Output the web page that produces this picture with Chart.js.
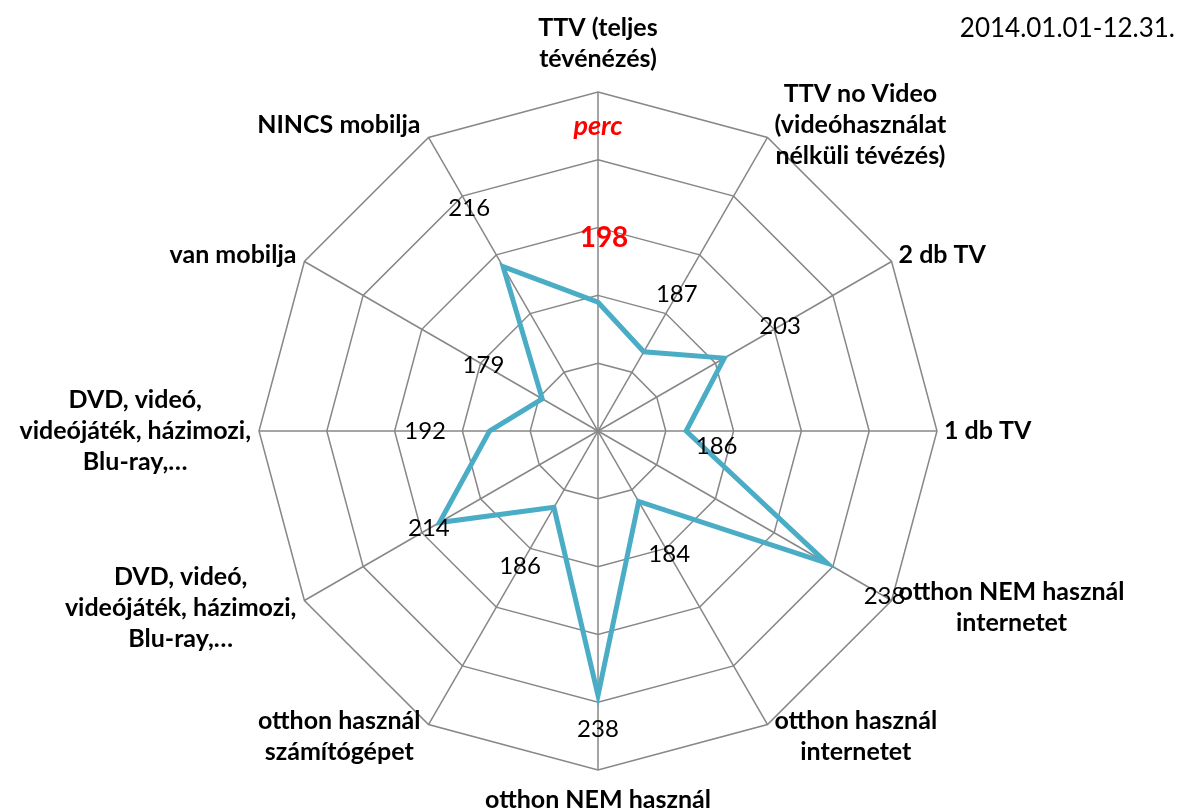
<!DOCTYPE html>
<html>
<head>
<meta charset="utf-8">
<script src="https://cdn.jsdelivr.net/npm/chart.js@4"></script>
<style>
  html, body { margin: 0; padding: 0; background: #fff; }
  #wrap { width: 1179px; height: 809px; }
</style>
</head>
<body>
<div id="wrap"><canvas id="radar" width="1179" height="809"></canvas></div>
<script>
// kategóriák (tengelyek)
var categories = [
  "TTV (teljes\ntévénézés)",
  "TTV no Video\n(videóhasználat\nnélküli tévézés)",
  "2 db TV",
  "1 db TV",
  "otthon NEM használ\ninternetet",
  "otthon használ\ninternetet",
  "otthon NEM használ\nszámítógépet",
  "otthon használ\nszámítógépet",
  "DVD, videó,\nvideójáték, házimozi,\nBlu-ray,…",
  "DVD, videó,\nvideójáték, házimozi,\nBlu-ray,…",
  "van mobilja",
  "NINCS mobilja"
];
// perc
var minutes = [198, 187, 203, 186, 238, 184, 238, 186, 214, 192, 179, 216];
// skála
var scaleMin = 160, scaleMax = 260, scaleStep = 20;
var periodText = "2014.01.01-12.31.";
var unitText = "perc";

// hol álljon a címke (a tengely mentén, skálaértékben)
var labelAt = [217, 206.5, 222, 195, 257.6, 202, 248, 206, 217.6, 211, 199, 236];
var labelDy = [0, 0, 0, 15, 0, 0, 0, 0, 0, 0, 0, 0];

var FONT = "Lato, 'Open Sans', sans-serif";

var labelsPlugin = {
  id: 'labels',
  afterDraw: function(chart) {
    var ctx = chart.ctx;
    var sc = chart.scales.r;
    var R = sc.drawingArea;
    var lineH = 31;
    ctx.save();
    ctx.textBaseline = 'middle';

    // tengelyfeliratok
    ctx.font = "bold 25px " + FONT;
    ctx.fillStyle = '#000';
    categories.forEach(function(cat, i) {
      var v = sc.getPointPosition(i, R);
      var a = i * Math.PI * 2 / categories.length;
      var s = Math.sin(a), c = Math.cos(a);
      var lines = cat.split('\n');
      var h = lines.length * lineH;
      var w = Math.max.apply(null, lines.map(function(l) { return ctx.measureText(l).width; }));
      var cx, top;
      if (Math.abs(s) < 0.01) {
        cx = v.x;
        top = c > 0 ? v.y - 18 - h : v.y + 14;
      } else {
        cx = s > 0 ? v.x + 7 + w / 2 : v.x - 8 - w / 2;
        top = v.y - c * 14 - h / 2;
      }
      ctx.textAlign = 'center';
      lines.forEach(function(l, k) {
        ctx.fillText(l, cx, top + lineH * k + lineH / 2);
      });
    });

    // értékcímkék
    minutes.forEach(function(val, i) {
      var p = sc.getPointPositionForValue(i, labelAt[i]);
      ctx.textAlign = 'center';
      if (i === 0) {
        ctx.font = "bold 28px " + FONT;
        ctx.fillStyle = '#ff0000';
        p.x += 6;
      } else {
        ctx.font = "24px " + FONT;
        ctx.fillStyle = '#000';
      }
      ctx.fillText(String(val), p.x, p.y + labelDy[i]);
    });

    // "perc"
    var pp = sc.getPointPositionForValue(0, 250);
    ctx.font = "italic bold 27px " + FONT;
    ctx.fillStyle = '#ff0000';
    ctx.fillText(unitText, pp.x, pp.y);

    // időszak
    ctx.font = "26px " + FONT;
    ctx.fillStyle = '#000';
    ctx.textAlign = 'right';
    ctx.fillText(periodText, 1175, 29);
    ctx.restore();
  }
};

var chart = new Chart(document.getElementById('radar').getContext('2d'), {
  type: 'radar',
  data: {
    labels: categories,
    datasets: [{
      label: 'perc',
      data: minutes,
      borderColor: '#4BACC6',
      borderWidth: 5,
      fill: false,
      pointRadius: 0,
      pointHoverRadius: 0,
      tension: 0
    }]
  },
  options: {
    responsive: false,
    animation: false,
    layout: { padding: { top: 92, bottom: 39, left: 259, right: 242 } },
    plugins: { legend: { display: false }, tooltip: { enabled: false } },
    scales: {
      r: {
        min: scaleMin,
        max: scaleMax,
        ticks: { stepSize: scaleStep, display: false },
        grid: { color: '#878787', lineWidth: 1.5 },
        angleLines: { color: '#878787', lineWidth: 1.5 },
        pointLabels: { display: false }
      }
    }
  },
  plugins: [labelsPlugin]
});
</script>
</body>
</html>
